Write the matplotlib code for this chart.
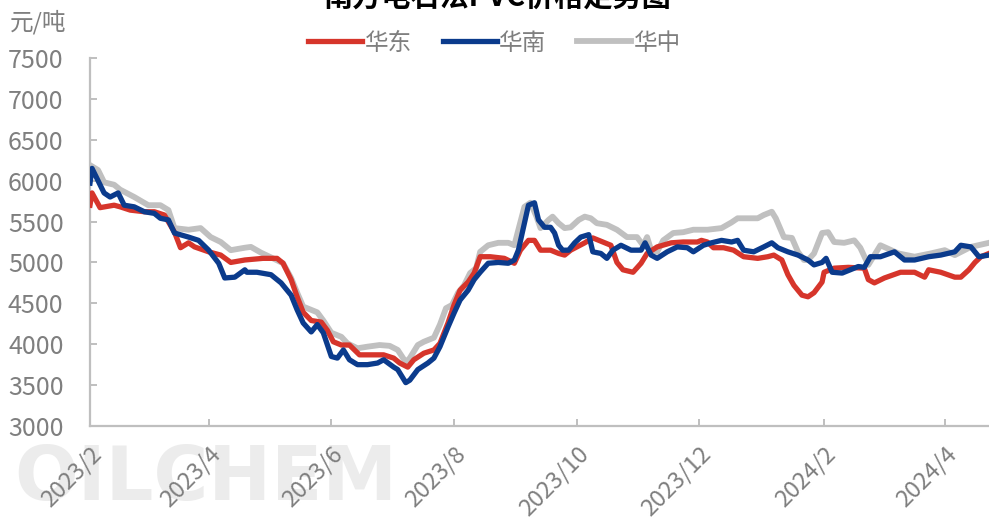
import matplotlib
matplotlib.use("Agg")
import matplotlib.pyplot as plt
import matplotlib.dates as mdates
from matplotlib.ticker import FuncFormatter
import pandas as pd

plt.rcParams['font.family'] = ['Noto Sans CJK SC', 'DejaVu Sans']

# 华东
east_dates = ["2023-02-01", "2023-02-02", "2023-02-04", "2023-02-06", "2023-02-13", "2023-02-16",
              "2023-02-21", "2023-02-28", "2023-03-05", "2023-03-10", "2023-03-15", "2023-03-18",
              "2023-03-22", "2023-03-25", "2023-04-01", "2023-04-07", "2023-04-12", "2023-04-19",
              "2023-04-28", "2023-05-05", "2023-05-08", "2023-05-12", "2023-05-15", "2023-05-18",
              "2023-05-22", "2023-05-27", "2023-05-30", "2023-06-02", "2023-06-06", "2023-06-10",
              "2023-06-15", "2023-06-22", "2023-06-27", "2023-07-02", "2023-07-05", "2023-07-09",
              "2023-07-12", "2023-07-17", "2023-07-22", "2023-07-25", "2023-07-29", "2023-08-01",
              "2023-08-04", "2023-08-08", "2023-08-11", "2023-08-14", "2023-08-19", "2023-08-26",
              "2023-08-31", "2023-09-03", "2023-09-07", "2023-09-10", "2023-09-13", "2023-09-18",
              "2023-09-22", "2023-09-25", "2023-09-28", "2023-10-05", "2023-10-09", "2023-10-14",
              "2023-10-18", "2023-10-21", "2023-10-24", "2023-10-29", "2023-11-02", "2023-11-05",
              "2023-11-10", "2023-11-17", "2023-11-23", "2023-11-30", "2023-12-02", "2023-12-05",
              "2023-12-08", "2023-12-13", "2023-12-18", "2023-12-23", "2023-12-30", "2024-01-04",
              "2024-01-07", "2024-01-11", "2024-01-14", "2024-01-17", "2024-01-21", "2024-01-24",
              "2024-01-27", "2024-01-31", "2024-02-01", "2024-02-06", "2024-02-13", "2024-02-21",
              "2024-02-23", "2024-02-26", "2024-03-02", "2024-03-10", "2024-03-17", "2024-03-22",
              "2024-03-24", "2024-03-30", "2024-04-06", "2024-04-09", "2024-04-13", "2024-04-16",
              "2024-04-19", "2024-04-23"]
east_vals = [5700, 5850, 5760, 5670, 5700, 5680, 5640, 5620, 5620, 5580, 5370, 5180,
             5240, 5190, 5130, 5090, 5000, 5030, 5050, 5050, 4990, 4790, 4580, 4390,
             4290, 4270, 4170, 4030, 3990, 3990, 3870, 3870, 3870, 3830, 3770, 3720,
             3810, 3890, 3930, 4010, 4260, 4480, 4660, 4760, 4870, 5070, 5070, 5050,
             4990, 5150, 5270, 5270, 5150, 5150, 5110, 5090, 5150, 5240, 5300, 5250,
             5210, 5000, 4910, 4880, 4990, 5110, 5190, 5240, 5250, 5250, 5270, 5250,
             5180, 5180, 5150, 5070, 5050, 5070, 5090, 5030, 4850, 4720, 4600, 4580,
             4630, 4760, 4880, 4930, 4940, 4930, 4790, 4750, 4810, 4880, 4880, 4820,
             4910, 4880, 4820, 4820, 4910, 5000, 5070, 5110]

# 华南
south_dates = ["2023-02-01", "2023-02-02", "2023-02-05", "2023-02-08", "2023-02-11", "2023-02-15",
               "2023-02-18", "2023-02-23", "2023-02-28", "2023-03-05", "2023-03-08", "2023-03-12",
               "2023-03-15", "2023-03-22", "2023-03-27", "2023-04-01", "2023-04-06", "2023-04-09",
               "2023-04-14", "2023-04-19", "2023-04-20", "2023-04-25", "2023-05-02", "2023-05-07",
               "2023-05-12", "2023-05-15", "2023-05-18", "2023-05-22", "2023-05-25", "2023-05-28",
               "2023-06-01", "2023-06-04", "2023-06-07", "2023-06-10", "2023-06-14", "2023-06-19",
               "2023-06-24", "2023-06-27", "2023-07-02", "2023-07-04", "2023-07-08", "2023-07-10",
               "2023-07-14", "2023-07-19", "2023-07-22", "2023-07-25", "2023-07-29", "2023-08-01",
               "2023-08-04", "2023-08-08", "2023-08-11", "2023-08-14", "2023-08-18", "2023-08-23",
               "2023-08-28", "2023-08-31", "2023-09-02", "2023-09-05", "2023-09-07", "2023-09-10",
               "2023-09-12", "2023-09-15", "2023-09-18", "2023-09-20", "2023-09-22", "2023-09-24",
               "2023-09-27", "2023-09-30", "2023-10-03", "2023-10-07", "2023-10-09", "2023-10-13",
               "2023-10-16", "2023-10-19", "2023-10-23", "2023-10-28", "2023-11-02", "2023-11-04",
               "2023-11-07", "2023-11-10", "2023-11-15", "2023-11-20", "2023-11-25", "2023-11-28",
               "2023-12-03", "2023-12-07", "2023-12-12", "2023-12-17", "2023-12-20", "2023-12-23",
               "2023-12-28", "2024-01-02", "2024-01-06", "2024-01-09", "2024-01-14", "2024-01-19",
               "2024-01-24", "2024-01-27", "2024-01-31", "2024-02-02", "2024-02-05", "2024-02-10",
               "2024-02-14", "2024-02-18", "2024-02-21", "2024-02-24", "2024-02-29", "2024-03-07",
               "2024-03-12", "2024-03-17", "2024-03-24", "2024-03-30", "2024-04-06", "2024-04-09",
               "2024-04-14", "2024-04-18", "2024-04-23"]
south_vals = [5970, 6150, 6000, 5850, 5800, 5850, 5700, 5680, 5620, 5600, 5540, 5520,
              5360, 5310, 5270, 5150, 4990, 4810, 4820, 4910, 4880, 4880, 4850, 4750,
              4600, 4420, 4260, 4150, 4240, 4140, 3850, 3830, 3930, 3810, 3750, 3750,
              3770, 3810, 3720, 3690, 3530, 3560, 3690, 3770, 3830, 3970, 4210, 4380,
              4540, 4660, 4790, 4880, 4990, 5000, 4990, 5030, 5150, 5480, 5700, 5730,
              5520, 5430, 5430, 5360, 5210, 5150, 5150, 5240, 5310, 5340, 5130, 5110,
              5050, 5150, 5210, 5150, 5150, 5240, 5090, 5050, 5130, 5190, 5180, 5130,
              5210, 5240, 5270, 5250, 5270, 5150, 5130, 5190, 5240, 5180, 5130, 5090,
              5030, 4970, 5000, 5050, 4880, 4870, 4910, 4950, 4940, 5070, 5070, 5130,
              5030, 5030, 5070, 5090, 5130, 5210, 5190, 5070, 5090]

# 华中
central_dates = ["2023-02-01", "2023-02-05", "2023-02-08", "2023-02-13", "2023-02-16", "2023-02-23",
                 "2023-03-02", "2023-03-08", "2023-03-12", "2023-03-15", "2023-03-22", "2023-03-28",
                 "2023-04-02", "2023-04-07", "2023-04-12", "2023-04-19", "2023-04-22", "2023-04-27",
                 "2023-05-03", "2023-05-08", "2023-05-12", "2023-05-15", "2023-05-18", "2023-05-22",
                 "2023-05-25", "2023-05-28", "2023-06-01", "2023-06-06", "2023-06-09", "2023-06-14",
                 "2023-06-19", "2023-06-25", "2023-06-30", "2023-07-04", "2023-07-08", "2023-07-10",
                 "2023-07-14", "2023-07-17", "2023-07-22", "2023-07-25", "2023-07-28", "2023-07-31",
                 "2023-08-03", "2023-08-06", "2023-08-09", "2023-08-12", "2023-08-14", "2023-08-18",
                 "2023-08-23", "2023-08-28", "2023-08-31", "2023-09-02", "2023-09-05", "2023-09-08",
                 "2023-09-11", "2023-09-13", "2023-09-17", "2023-09-19", "2023-09-22", "2023-09-25",
                 "2023-09-28", "2023-10-02", "2023-10-05", "2023-10-08", "2023-10-11", "2023-10-16",
                 "2023-10-21", "2023-10-26", "2023-10-31", "2023-11-03", "2023-11-05", "2023-11-07",
                 "2023-11-10", "2023-11-13", "2023-11-18", "2023-11-23", "2023-11-28", "2023-12-05",
                 "2023-12-12", "2023-12-17", "2023-12-20", "2023-12-30", "2024-01-02", "2024-01-06",
                 "2024-01-08", "2024-01-12", "2024-01-16", "2024-01-19", "2024-01-22", "2024-01-24",
                 "2024-01-27", "2024-01-31", "2024-02-03", "2024-02-06", "2024-02-11", "2024-02-16",
                 "2024-02-19", "2024-02-23", "2024-02-29", "2024-03-09", "2024-03-17", "2024-03-25",
                 "2024-04-01", "2024-04-06", "2024-04-14", "2024-04-23"]
central_vals = [6190, 6130, 5980, 5950, 5890, 5800, 5700, 5700, 5640, 5420, 5400, 5420,
                5310, 5250, 5150, 5180, 5190, 5120, 5050, 4990, 4810, 4630, 4460, 4420,
                4390, 4290, 4140, 4090, 4010, 3950, 3970, 3990, 3980, 3930, 3780, 3830,
                3990, 4030, 4080, 4240, 4440, 4480, 4630, 4720, 4870, 4930, 5130, 5210,
                5240, 5240, 5210, 5400, 5680, 5730, 5560, 5420, 5520, 5560, 5480, 5420,
                5430, 5520, 5560, 5540, 5480, 5460, 5400, 5310, 5310, 5210, 5310, 5150,
                5130, 5270, 5360, 5370, 5400, 5400, 5420, 5490, 5540, 5540, 5580, 5620,
                5540, 5310, 5300, 5130, 5030, 5030, 5110, 5360, 5370, 5250, 5240, 5270,
                5180, 4970, 5210, 5110, 5070, 5110, 5150, 5090, 5190, 5240]

y_ticks = [3000, 3500, 4000, 4500, 5000, 5500, 6000, 6500, 7000, 7500]

fig = plt.figure(figsize=(9.89, 5.25), dpi=100)
ax = fig.add_axes([0.091, 0.1886, 0.909, 0.7009])
ax.patch.set_alpha(0)

ax.plot(pd.to_datetime(central_dates), central_vals, color='#c0c0c0', lw=4.2, label='华中', zorder=2)
ax.plot(pd.to_datetime(east_dates), east_vals, color='#d6352b', lw=3.8, label='华东', zorder=3)
ax.plot(pd.to_datetime(south_dates), south_vals, color='#0b3b8c', lw=3.8, label='华南', zorder=4)

ax.set_ylim(3000, 7500)
ax.set_yticks(y_ticks)
ax.set_xlim(pd.Timestamp("2023-02-01"), pd.Timestamp("2024-04-23"))
ax.xaxis.set_major_locator(mdates.MonthLocator(bymonth=[2, 4, 6, 8, 10, 12], bymonthday=1))
ax.xaxis.set_major_formatter(FuncFormatter(lambda v, p: f"{mdates.num2date(v).year}/{mdates.num2date(v).month}"))

for s in ['top', 'right']:
    ax.spines[s].set_visible(False)
for s in ['left', 'bottom']:
    ax.spines[s].set_color('#bfbfbf')
    ax.spines[s].set_linewidth(1.6)

ax.tick_params(axis='both', direction='in', length=5, width=1.4, color='#bfbfbf',
               labelcolor='#7f7f7f')
ax.tick_params(axis='y', pad=19, labelsize=18)
ax.tick_params(axis='x', pad=12, labelsize=17)
for lab in ax.get_xticklabels():
    lab.set_rotation(45)
    lab.set_ha('right')
    lab.set_rotation_mode('anchor')

# watermark behind everything
fig.text(0.208, 0.087, 'OILCHEM', fontsize=54, fontweight='bold', color='#ececec',
         family='DejaVu Sans', ha='center', va='center', zorder=-5)

fig.text(0.01, 0.935, '元/吨', fontsize=17, color='#7f7f7f', ha='left', va='bottom')
fig.text(0.503, 1 - 6 / 525, '南方电石法PVC价格走势图', fontsize=21, fontweight='bold',
         color='#000000', ha='center', va='baseline')

handles, labels = ax.get_legend_handles_labels()
order = [1, 2, 0]
fig.legend([handles[i] for i in order], [labels[i] for i in order], loc='center',
           bbox_to_anchor=(0.5, 0.918), ncol=3, frameon=False, fontsize=17,
           labelcolor='#7f7f7f', handlelength=2.3, handletextpad=0.1, columnspacing=1.3)

fig.savefig('out.png', dpi=100)
